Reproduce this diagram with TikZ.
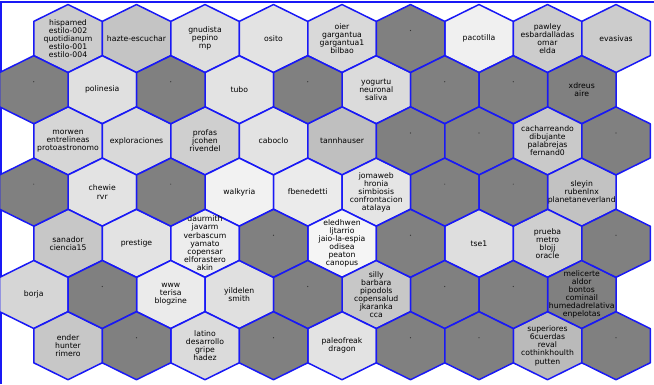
\documentclass[tikz,border=0pt]{standalone}
\usepackage{fontspec}
\setmainfont{DejaVu Sans}
\usepackage{tikz}
\definecolor{hexblue}{RGB}{25,25,245}
\newcommand{\somfont}{\fontsize{7.7}{8.1}\selectfont}
\begin{document}
\begin{tikzpicture}[x=1pt,y=-1pt,font=\somfont,
  cell/.style={draw=hexblue,line width=1.5pt,line join=round},
  lbl/.style={align=center,inner sep=0pt}]
\useasboundingbox (0,0) rectangle (654,384);
\draw[hexblue,line width=1.2pt] (1,384) -- (1,2) -- (654,2);
% cells with labels: column/row/grey/label
\foreach \c/\r/\s/\t in {
  0/0/20/{hispamed\\estilo-002\\quotidianum\\estilo-001\\estilo-004},
  1/0/23/{hazte-escuchar}, 2/0/13/{gnudista\\pepino\\mp}, 3/0/11/{osito},
  4/0/15/{oier\\gargantua\\gargantua1\\bilbao}, 6/0/6/{pacotilla},
  7/0/20/{pawley\\esbardalladas\\omar\\elda}, 8/0/20/{evasivas},
  1/1/12/{polinesia}, 3/1/11/{tubo}, 5/1/14/{yogurtu\\neuronal\\saliva},
  8/1/50/{xdreus\\aire},
  0/2/16/{morwen\\entrelineas\\protoastronomo}, 1/2/15/{exploraciones},
  2/2/19/{profas\\jcohen\\rivendel}, 3/2/11/{caboclo}, 4/2/25/{tannhauser},
  7/2/21/{cacharreando\\dibujante\\palabrejas\\fernand0},
  1/3/11/{chewie\\rvr}, 3/3/5/{walkyria}, 4/3/8/{fbenedetti},
  5/3/10/{jomaweb\\hronia\\simbiosis\\confrontacion\\atalaya},
  8/3/24/{sleyin\\rubenlnx\\planetaneverland},
  0/4/22/{sanador\\ciencia15}, 1/4/11/{prestige},
  2/4/7/{daurmith\\javarm\\verbascum\\yamato\\copensar\\elforastero\\akin},
  4/4/4/{eledhwen\\ljtarrio\\jaio-la-espia\\odisea\\peaton\\canopus},
  6/4/13/{tse1}, 7/4/19/{prueba\\metro\\blojj\\oracle},
  0/5/16/{borja}, 2/5/8/{www\\terisa\\blogzine}, 3/5/12/{yildelen\\smith},
  5/5/22/{silly\\barbara\\pipodols\\copensalud\\jkaranka\\cca},
  8/5/50/{melicerte\\aldor\\bontos\\cominail\\humedadrelativa\\enpelotas},
  0/6/22/{ender\\hunter\\rimero}, 2/6/14/{latino\\desarrollo\\gripe\\hadez},
  4/6/11/{paleofreak\\dragon},
  7/6/27/{superiores\\6cuerdas\\reval\\cothinkhoulth\\putten}}{
  \pgfmathsetmacro{\cx}{68+68.5*\c-34.25*mod(\r,2)}
  \pgfmathsetmacro{\cy}{38.5+51.2*\r}
  \draw[cell,fill=black!\s,shift={(\cx,\cy)}] (0,-34) -- (34.25,-17.1) -- (34.25,17.1)
    -- (0,34) -- (-34.25,17.1) -- (-34.25,-17.1) -- cycle;
  \node[lbl] (h\c-\r) at (\cx,\cy) {\t};
}
% empty dark cells
\foreach \c/\r in {5/0,0/1,2/1,4/1,6/1,7/1,5/2,6/2,8/2,0/3,2/3,6/3,7/3,
  3/4,5/4,8/4,1/5,4/5,6/5,7/5,1/6,3/6,5/6,6/6,8/6}{
  \pgfmathsetmacro{\cx}{68+68.5*\c-34.25*mod(\r,2)}
  \pgfmathsetmacro{\cy}{38.5+51.2*\r}
  \draw[cell,fill=black!50,shift={(\cx,\cy)}] (0,-34) -- (34.25,-17.1) -- (34.25,17.1)
    -- (0,34) -- (-34.25,17.1) -- (-34.25,-17.1) -- cycle;
  \fill[black!80] (\cx,\cy-8) circle (0.6pt);
}
\end{tikzpicture}
\end{document}
